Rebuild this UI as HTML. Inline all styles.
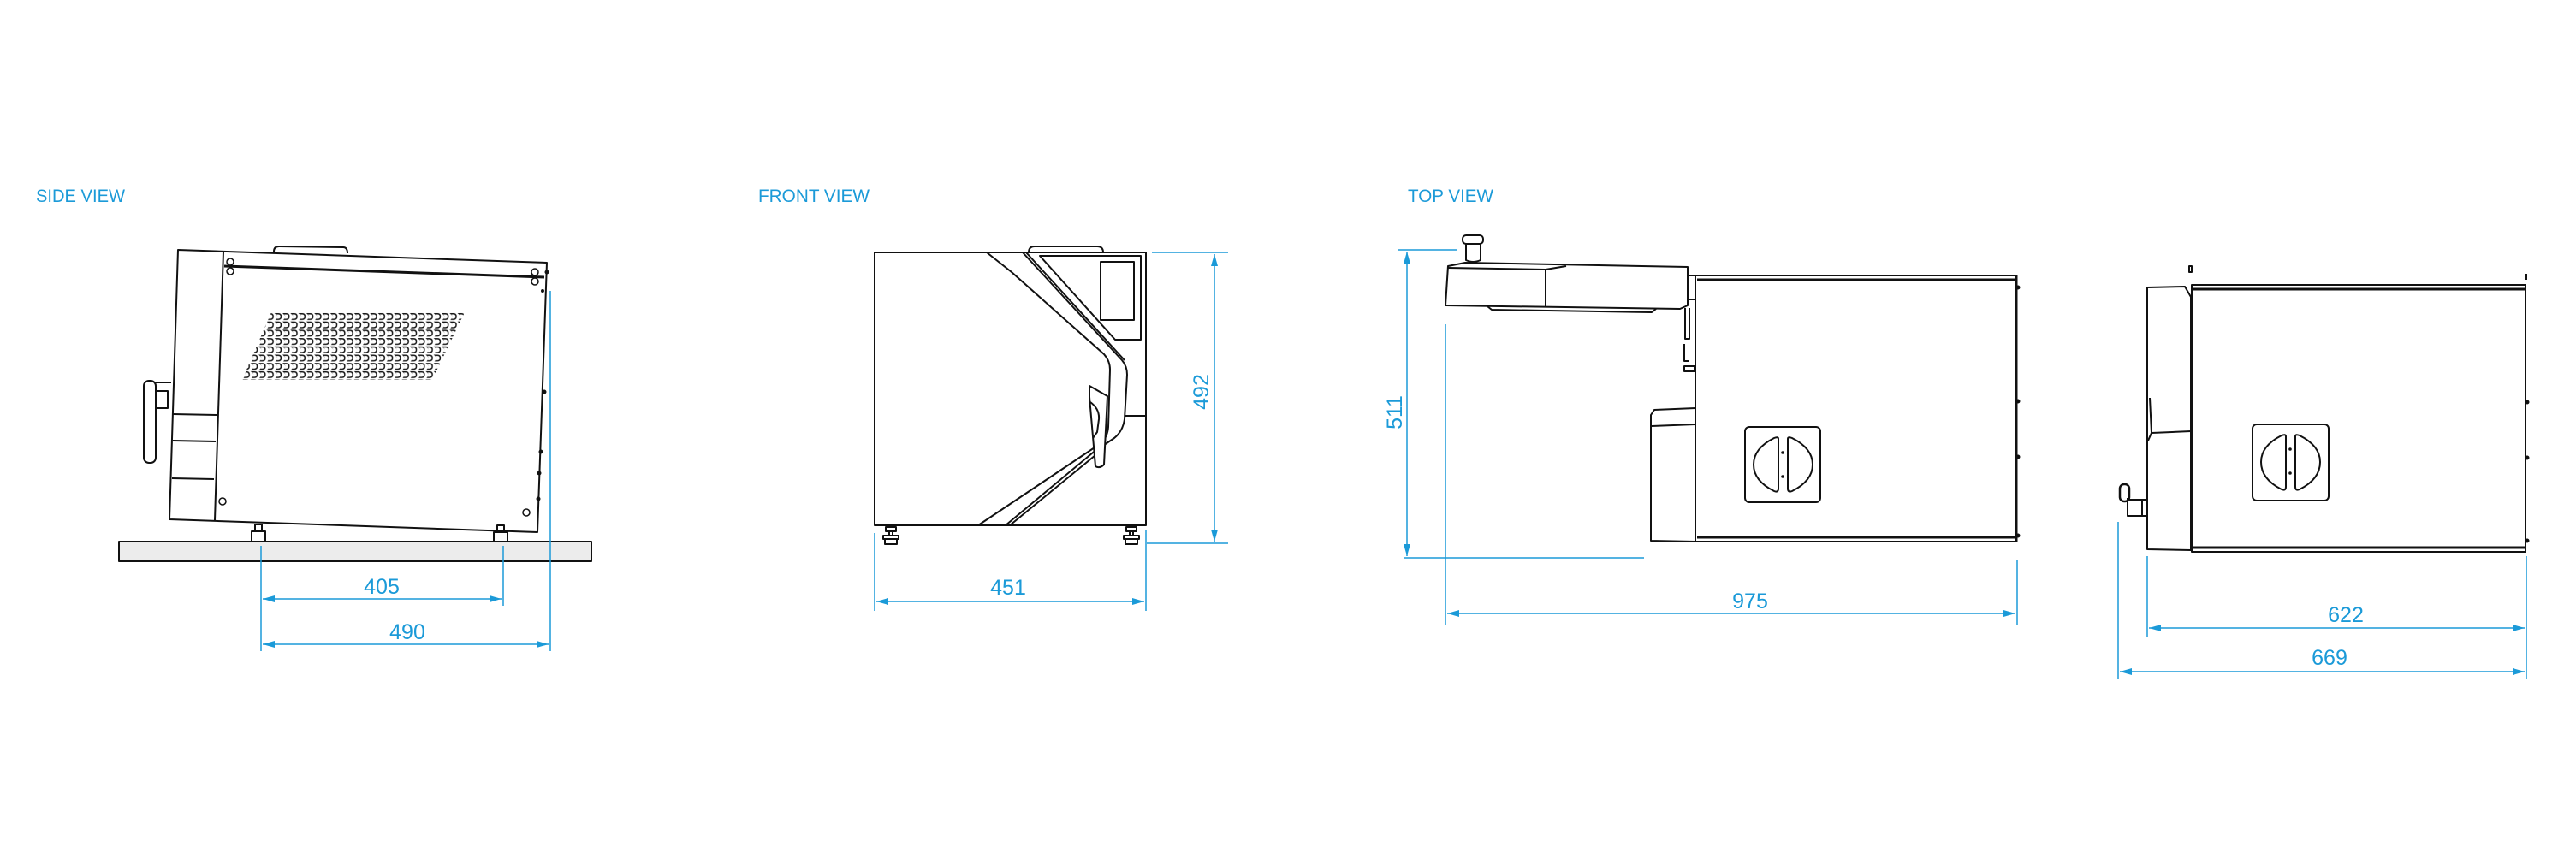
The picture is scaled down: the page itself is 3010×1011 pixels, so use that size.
<!DOCTYPE html>
<html><head><meta charset="utf-8"><style>
html,body{margin:0;padding:0;background:#fff;}
svg{display:block}
text{font-family:"Liberation Sans",sans-serif;fill:#1b9ad8}
</style></head><body>
<svg width="3010" height="1011" viewBox="0 0 3010 1011" xmlns="http://www.w3.org/2000/svg">
<defs>
<marker id="ah" viewBox="0 0 14 8" refX="14" refY="4" markerWidth="14" markerHeight="8" orient="auto-start-reverse" markerUnits="userSpaceOnUse"><path d="M0,0 L14,4 L0,8 z" fill="#1b9ad8"/></marker>
<pattern id="vent" width="9.3" height="9.7" patternUnits="userSpaceOnUse" x="283" y="365">
<path d="M0.5,1 h4.5 q4,0 4,4 q0,4 -4,4 h-3.5 l3,-4 z M2.5,2.5 l2,2.5 l-2,2.5 h2.5 q2.5,0 2.5,-2.5 q0,-2.5 -2.5,-2.5 z" fill="#1a1a1a" fill-rule="evenodd"/>
</pattern>
<clipPath id="vc"><polygon points="317,365 543,365 505,444 283,444"/></clipPath>
</defs>

<g font-size="21">
<text x="42" y="236" textLength="104" lengthAdjust="spacingAndGlyphs">SIDE VIEW</text>
<text x="886" y="236" textLength="130" lengthAdjust="spacingAndGlyphs">FRONT VIEW</text>
<text x="1645" y="236" textLength="100" lengthAdjust="spacingAndGlyphs">TOP VIEW</text>
</g>

<!-- ============ SIDE VIEW ============ -->
<g fill="none" stroke="#111" stroke-width="2" stroke-linejoin="round">
<rect x="139" y="633" width="552" height="23" fill="#ececec"/>
<path d="M320,294 Q320,288 326,288 L401,289 Q406,289 406,296"/>
<path d="M208,292 L639,307 L628,622 L198,607 Z" fill="#fff"/>
<path d="M261,294 L251,608"/>
<path d="M262,311 L636,324" stroke-width="3"/>
<path d="M202,484 L253,485 M202,515 L252,516 M201,559 L250,560"/>
<path d="M200,447 L182,447"/>
<rect x="168" y="445" width="14" height="96" rx="6"/>
<path d="M182,457 h14 v20 h-14"/>
<path d="M298,613 h8 v8 h-8 z M294,621 h16 v12 h-16 z"/>
<path d="M581,614 h8 v8 h-8 z M577,622 h16 v11 h-16 z"/>
</g>
<g fill="none" stroke="#111" stroke-width="1.5">
<circle cx="269" cy="306" r="4"/><circle cx="269" cy="317" r="4"/>
<circle cx="625" cy="318" r="4"/><circle cx="625" cy="329" r="4"/>
<circle cx="260" cy="586" r="4"/><circle cx="615" cy="599" r="4"/>
</g>
<g fill="#111"><circle cx="639" cy="318" r="2.5"/><circle cx="634" cy="340" r="2"/><circle cx="636" cy="458" r="2.5"/><circle cx="632" cy="528" r="2.5"/><circle cx="630" cy="553" r="2.5"/><circle cx="629" cy="583" r="2.5"/></g>
<rect x="280" y="360" width="265" height="90" fill="url(#vent)" clip-path="url(#vc)"/>

<g stroke="#1b9ad8" stroke-width="1.5" fill="none">
<path d="M305,638 V761 M588,638 V708 M643,340 V761"/>
<path d="M307,700 H586" marker-start="url(#ah)" marker-end="url(#ah)"/>
<path d="M307,753 H641" marker-start="url(#ah)" marker-end="url(#ah)"/>
</g>
<g font-size="25" text-anchor="middle">
<text x="446" y="694">405</text>
<text x="476" y="747">490</text>
</g>

<!-- ============ FRONT VIEW ============ -->
<g fill="none" stroke="#111" stroke-width="2" stroke-linejoin="round">
<path d="M1202,295 Q1202,288 1209,288 L1282,288 Q1289,288 1289,295"/>
<rect x="1022" y="295" width="317" height="319" fill="#fff"/>
<path d="M1153,295 L1182,318 L1290,414 Q1297,422 1297,432 L1295,499 Q1294,512 1285,519 L1143,614"/>
<path d="M1195,295 L1311,421 Q1317,428 1317,438 L1314,490 Q1312,504 1302,512 L1277,529 L1175,614"/>
<path d="M1199,295 L1314,421 M1180,614 L1280,532"/>
<path d="M1215,299 L1333,299 L1333,397 L1303,397 Z"/>
<rect x="1286" y="306" width="39" height="68"/>
<path d="M1315,486 H1339"/>
<path d="M1273,451 L1294,463 L1290,543 Q1285,548 1280,545 L1273,464 Z" fill="#fff"/>
<path d="M1274,470 Q1285,478 1284,490 L1282,505 L1277,512"/>
<path d="M1035,616 h12 v5 h-12 z M1039,621 h4 v5 h-4 z M1032,626 h18 v4 h-18 z M1034,630 h14 v6 h-14 z"/>
<path d="M1316,616 h12 v5 h-12 z M1320,621 h4 v5 h-4 z M1313,626 h18 v4 h-18 z M1315,630 h14 v6 h-14 z"/>
</g>
<g stroke="#1b9ad8" stroke-width="1.5" fill="none">
<path d="M1346,295 H1435 M1340,635 H1435"/>
<path d="M1419,297 V633" marker-start="url(#ah)" marker-end="url(#ah)"/>
<path d="M1022,623 V714 M1339,620 V714"/>
<path d="M1024,703 H1337" marker-start="url(#ah)" marker-end="url(#ah)"/>
</g>
<text x="1178" y="695" font-size="25" text-anchor="middle">451</text>
<text transform="translate(1412,458) rotate(-90)" font-size="25" text-anchor="middle">492</text>

<!-- ============ TOP VIEW ============ -->
<g fill="none" stroke="#111" stroke-width="2" stroke-linejoin="round">
<path d="M1713,285 V304 Q1721,308 1730,304 V285"/>
<rect x="1709" y="275" width="24" height="10" rx="4"/>
<path d="M1692,311 L1712,307 L1972,312 L1972,357 L1963,361 L1689,357 Z" fill="#fff"/>
<path d="M1692,313 L1806,315 L1830,311 M1806,315 V358"/>
<path d="M1738,358 L1743,362 L1930,365 L1935,361"/>
<path d="M1972,322 H1981 M1972,350 H1981"/>
<path d="M1969,360 v36 h5 v-36 M1968,402 v20 h6 M1968,428 h12 v6 h-12 z"/>
<rect x="1981" y="322" width="374" height="311" fill="#fff"/>
<path d="M1983,327 H2355 M1983,628 H2355" stroke-width="3"/>
<path d="M2356,322 V633" stroke-width="3"/>
<path d="M1981,477 L1933,479 L1929,485 L1929,632 L1981,633"/>
<path d="M1930,498 L1981,496"/>
<rect x="2039" y="499" width="88" height="88" rx="5"/>
<path d="M2078,513 V571 Q2078,576 2073,574 Q2049,562 2049,543 Q2049,524 2073,512 Q2078,510 2078,513 Z"/>
<path d="M2089,513 V571 Q2089,576 2094,574 Q2118,562 2118,543 Q2118,524 2094,512 Q2089,510 2089,513 Z"/>
</g>
<g fill="#111"><circle cx="2083" cy="529" r="1.8"/><circle cx="2083" cy="557" r="1.8"/>
<circle cx="2358" cy="336" r="2.5"/><circle cx="2358" cy="469" r="2.5"/><circle cx="2358" cy="534" r="2.5"/><circle cx="2358" cy="626" r="2.5"/></g>

<g fill="none" stroke="#111" stroke-width="2" stroke-linejoin="round">
<rect x="2558" y="311" width="3" height="7"/>
<path d="M2509,336 L2553,335 L2560,347 L2560,643 L2509,642 Z" fill="#fff"/>
<path d="M2512,465 L2514,506 L2510,515 M2514,506 L2560,504"/>
<rect x="2561" y="333" width="390" height="312" fill="#fff"/>
<path d="M2562,338 H2951 M2562,640 H2951" stroke-width="3"/>
<rect x="2632" y="496" width="89" height="89" rx="5"/>
<path d="M2671,510 V569 Q2671,574 2666,572 Q2642,560 2642,540 Q2642,521 2666,509 Q2671,507 2671,510 Z"/>
<path d="M2682,510 V569 Q2682,574 2687,572 Q2711,560 2711,540 Q2711,521 2687,509 Q2682,507 2682,510 Z"/>
<rect x="2477" y="566" width="11" height="20" rx="5" stroke-width="2.5"/>
<path d="M2486,582 V603 H2509 V584 H2488"/>
<path d="M2503,584 V603"/>
</g>
<g fill="#111"><circle cx="2676" cy="525" r="1.8"/><circle cx="2676" cy="553" r="1.8"/>
<rect x="2950" y="320" width="3" height="7"/><circle cx="2953" cy="470" r="2.5"/><circle cx="2953" cy="535" r="2.5"/><circle cx="2953" cy="632" r="2.5"/></g>

<g stroke="#1b9ad8" stroke-width="1.5" fill="none">
<path d="M1633,292 H1702 M1640,652 H1921"/>
<path d="M1644,294 V650" marker-start="url(#ah)" marker-end="url(#ah)"/>
<path d="M1689,379 V731 M2357,655 V731"/>
<path d="M1691,717 H2355" marker-start="url(#ah)" marker-end="url(#ah)"/>
<path d="M2475,610 V794 M2509,650 V744 M2952,650 V794"/>
<path d="M2511,734 H2950" marker-start="url(#ah)" marker-end="url(#ah)"/>
<path d="M2477,785 H2950" marker-start="url(#ah)" marker-end="url(#ah)"/>
</g>
<g font-size="25" text-anchor="middle">
<text x="2045" y="711">975</text>
<text x="2741" y="727">622</text>
<text x="2722" y="777">669</text>
<text transform="translate(1638,482) rotate(-90)">511</text>
</g>
</svg>
</body></html>
